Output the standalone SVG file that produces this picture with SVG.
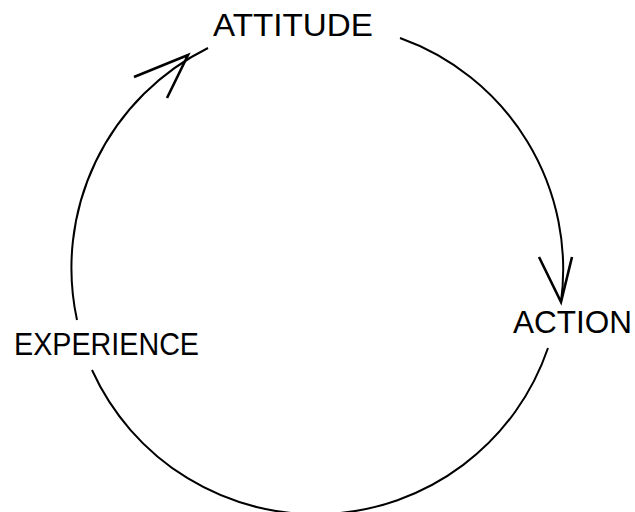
<svg xmlns="http://www.w3.org/2000/svg" width="635" height="512" viewBox="0 0 635 512">
<style>
.lbl{font-family:"Liberation Sans",Arial,sans-serif;fill:#000;}
.arc{fill:none;stroke:#000;stroke-width:2;}
.head{fill:none;stroke:#000;stroke-width:2.6;stroke-linecap:butt;stroke-linejoin:miter;}
</style>
<rect width="635" height="512" fill="#fff"/>
<g id="connectors">
<path class="arc" d="M400,38 A245.5,245.5 0 0 1 561,302"/>
<path class="head" d="M539,257 L561,302 L572,257"/>
<path class="arc" d="M548,348 A245.5,245.5 0 0 1 92,370"/>
<path class="arc" d="M77,320 A245.5,245.5 0 0 1 208,48"/>
<path class="head" d="M134,77 L188,55 L167,98"/>
</g>
<g id="attitude"><text class="lbl" x="213" y="36" font-size="32" textLength="160" lengthAdjust="spacingAndGlyphs">ATTITUDE</text></g>
<g id="action"><text class="lbl" x="513" y="333" font-size="32" textLength="119" lengthAdjust="spacingAndGlyphs">ACTION</text></g>
<g id="experience"><text class="lbl" x="14" y="355" font-size="31" textLength="185" lengthAdjust="spacingAndGlyphs">EXPERIENCE</text></g>
</svg>
